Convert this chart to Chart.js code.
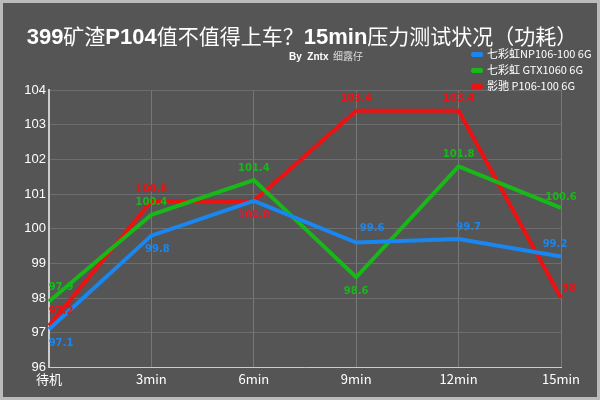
<!DOCTYPE html>
<html><head><meta charset="utf-8">
<script src="https://cdn.jsdelivr.net/npm/chart.js@4"></script>
<style>html,body{margin:0;background:#555;}#w{width:600px;height:400px;box-sizing:border-box;border:3px solid #bbb;background:#555}</style>
</head><body><div id="w"><canvas id="c" width="594" height="394"></canvas></div>
<script>
const categories = ['待机','3min','6min','9min','12min','15min'];
const blueValues = [97.1, 99.8, 100.8, 99.6, 99.7, 99.2];
const greenValues = [97.9, 100.4, 101.4, 98.6, 101.8, 100.6];
const redValues = [97.2, 100.8, 100.8, 103.4, 103.4, 98];
const seriesNames = ['七彩虹NP106-100 6G','七彩虹 GTX1060 6G','影驰 P106-100 6G'];
const colors = ['#1a86f0','#17b817','#ee1111'];
const labelOffsets = [
  [[12,14],[6,14],[0,14],[16,-14],[10,-12],[-6,-12]],
  [[12,-14],[0,-12],[0,-12],[0,14],[0,-12],[0,-10]],
  [[12,-14],[0,-12],[0,14],[0,-12],[0,-12],[8,-10]]
];

const deco = {
  id:'deco',
  afterDatasetsDraw(ch){
    const c = ch.ctx;
    ch.data.datasets.forEach((ds,i)=>{
      const meta = ch.getDatasetMeta(i);
      c.font='bold 10px "DejaVu Sans"';
      c.fillStyle=colors[i];c.textAlign='center';c.textBaseline='middle';
      meta.data.forEach((p,j)=>{
        const o=labelOffsets[i][j];
        c.fillText(String(ds.data[j]),p.x+o[0],p.y+o[1]);
      });
    });
    c.textBaseline='alphabetic';
    const parts=[['399','bold'],['矿渣',''],['P104','bold'],['值不值得上车？',''],['15min','bold'],['压力测试状况（功耗）','']];
    const f=p=>p[1]?'bold 22px "Liberation Sans"':'21px "Noto Sans CJK SC"';
    let total=0;
    parts.forEach(p=>{c.font=f(p);total+=c.measureText(p[0]).width;});
    let x=(594-total)/2+2;
    c.fillStyle='#fff';c.textAlign='left';
    parts.forEach(p=>{c.font=f(p);c.fillText(p[0],x,41);x+=c.measureText(p[0]).width;});
    c.font='bold 10px "Liberation Sans"';c.fillText('By  Zntx',286,57);
    c.font='10px "Noto Sans CJK SC"';c.fillStyle='#ddd';c.fillText('细露仔',330,57);
    seriesNames.forEach((n,i)=>{
      const y=51+i*16;
      c.fillStyle=colors[i];
      c.beginPath();c.roundRect(468,y-2,12,5,2);c.fill();
      c.fillStyle='#fff';c.font='11px "Noto Sans CJK SC"';c.textBaseline='middle';
      c.fillText(n,484,y);
    });
  }
};

new Chart(document.getElementById('c'),{
  type:'line',
  data:{labels:categories,datasets:[
    {label:seriesNames[0],data:blueValues,borderColor:colors[0]},
    {label:seriesNames[1],data:greenValues,borderColor:colors[1]},
    {label:seriesNames[2],data:redValues,borderColor:colors[2]}
  ].map(d=>Object.assign(d,{borderWidth:4,pointRadius:0,tension:0,fill:false}))},
  options:{
    responsive:false,animation:false,
    layout:{padding:{top:87,right:36,left:4,bottom:6}},
    plugins:{legend:{display:false},title:{display:false},tooltip:{enabled:false}},
    scales:{
      x:{offset:false,grid:{color:'#777',lineWidth:1,drawTicks:false},border:{color:'#ccc',width:1},
         ticks:{color:'#fff',font:{size:13,family:'"Noto Sans CJK SC"'},padding:4}},
      y:{min:96,max:104,ticks:{stepSize:0.5,color:'#fff',font:{size:13,family:'"Liberation Sans"'},
          callback:v=>Number.isInteger(v)?v:''},
         grid:{color:'#6e6e6e',drawTicks:false},border:{color:'#ccc',width:2},afterFit(s){s.width=42;}}
    }
  },
  plugins:[deco]
});
</script></body></html>
